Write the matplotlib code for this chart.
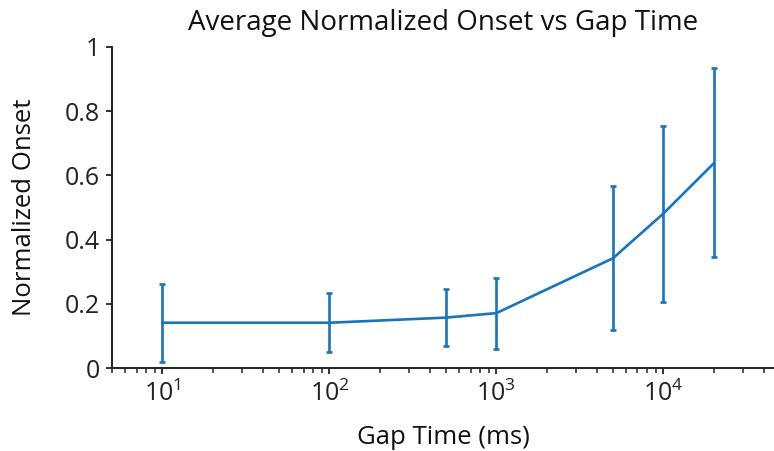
import matplotlib
matplotlib.use("Agg")
import matplotlib.pyplot as plt
from matplotlib.ticker import FuncFormatter, LogLocator
import numpy as np

plt.rcParams['font.family'] = ['Open Sans', 'DejaVu Sans']
plt.rcParams['mathtext.fontset'] = 'custom'
plt.rcParams['mathtext.rm'] = 'Open Sans'
plt.rcParams['mathtext.it'] = 'Open Sans'

# Data
gap_time = [10, 100, 500, 1000, 5000, 10000, 20000]
onset_mean = [0.141, 0.141, 0.157, 0.171, 0.342, 0.481, 0.637]
onset_low = [0.018, 0.049, 0.069, 0.059, 0.118, 0.206, 0.345]
onset_high = [0.263, 0.233, 0.245, 0.281, 0.568, 0.754, 0.934]

mean = np.array(onset_mean)
yerr = [mean - np.array(onset_low), np.array(onset_high) - mean]

color = '#1874bd'

fig = plt.figure(figsize=(7.74, 4.51), dpi=100)
ax = fig.add_axes([0.145, 0.184, 0.855, 0.712])

ax.errorbar(gap_time, onset_mean, yerr=yerr, color=color, lw=1.9,
            elinewidth=1.9, capsize=2.5, capthick=1.9)

ax.set_xscale('log')
ax.set_xlim(5, 46000)
ax.set_ylim(0, 1)
ax.set_yticks([0, 0.2, 0.4, 0.6, 0.8, 1])
ax.yaxis.set_major_formatter(FuncFormatter(lambda v, p: f'{v:g}'))
ax.xaxis.set_major_locator(LogLocator(base=10, numticks=10))
ax.xaxis.set_minor_locator(LogLocator(base=10, subs=np.arange(2, 10), numticks=10))

for s in ['top', 'right']:
    ax.spines[s].set_visible(False)
for s in ['left', 'bottom']:
    ax.spines[s].set_linewidth(1.4)
    ax.spines[s].set_color('#222222')

ax.tick_params(axis='both', which='major', direction='out', length=4, width=1.3,
               labelsize=18, colors='#222222', pad=5)
ax.tick_params(axis='x', which='minor', direction='out', length=3.5, width=1.1, colors='#222222')

ax.set_title('Average Normalized Onset vs Gap Time', fontsize=20, pad=12, color='#111111')
ax.set_xlabel('Gap Time (ms)', fontsize=18.5, labelpad=13, color='#111111')
ax.set_ylabel('Normalized Onset', fontsize=18.5, labelpad=20, color='#111111')

fig.savefig('out.png', dpi=100)
